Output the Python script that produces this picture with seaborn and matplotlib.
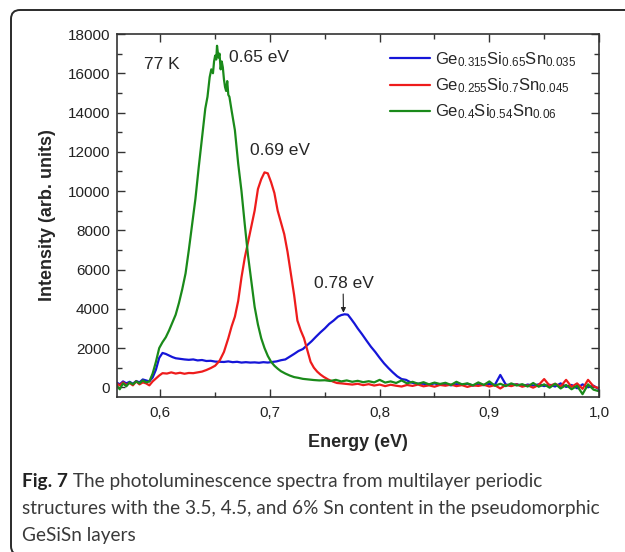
import numpy as np
import pandas as pd
import matplotlib
matplotlib.use('Agg')
import matplotlib.pyplot as plt
from matplotlib.ticker import MultipleLocator, FuncFormatter
from matplotlib.patches import FancyBboxPatch
import seaborn as sns

# chart style
sns.set_style('ticks')
plt.rcParams['font.family'] = ['Liberation Sans', 'DejaVu Sans']
plt.rcParams['mathtext.fontset'] = 'custom'
plt.rcParams['mathtext.rm'] = 'Liberation Sans'
plt.rcParams['mathtext.it'] = 'Liberation Sans'
plt.rcParams['mathtext.bf'] = 'Liberation Sans:bold'

# --- data ---
energy_blue = [0.560, 0.563, 0.566, 0.569, 0.572, 0.575, 0.578, 0.581, 0.584, 0.587,
               0.590, 0.593, 0.596, 0.599, 0.602, 0.605, 0.608, 0.611, 0.614, 0.618,
               0.622, 0.626, 0.630, 0.634, 0.638, 0.642, 0.646, 0.650, 0.654, 0.658,
               0.662, 0.666, 0.670, 0.674, 0.678, 0.682, 0.686, 0.690, 0.694, 0.698,
               0.702, 0.706, 0.710, 0.714, 0.718, 0.722, 0.726, 0.730, 0.734, 0.738,
               0.742, 0.746, 0.750, 0.754, 0.758, 0.762, 0.765, 0.768, 0.771, 0.774,
               0.777, 0.780, 0.784, 0.788, 0.792, 0.796, 0.800, 0.804, 0.808, 0.812,
               0.816, 0.820, 0.824, 0.828, 0.832, 0.836, 0.840, 0.845, 0.850, 0.855,
               0.860, 0.865, 0.870, 0.875, 0.880, 0.885, 0.890, 0.895, 0.900, 0.905,
               0.910, 0.915, 0.920, 0.925, 0.930, 0.935, 0.940, 0.945, 0.950, 0.955,
               0.960, 0.965, 0.970, 0.975, 0.980, 0.985, 0.990, 0.995, 1.000]
intensity_blue = [250, 150, 300, 200, 280, 180, 320, 250, 400, 350,
                  300, 500, 900, 1500, 1750, 1700, 1620, 1540, 1480, 1450,
                  1420, 1400, 1420, 1370, 1390, 1340, 1350, 1310, 1300, 1290,
                  1320, 1280, 1300, 1260, 1280, 1260, 1270, 1250, 1280, 1260,
                  1290, 1320, 1380, 1420, 1560, 1700, 1850, 1950, 2150, 2350,
                  2580, 2800, 3000, 3230, 3400, 3600, 3680, 3720, 3700, 3480,
                  3250, 3000, 2700, 2380, 2070, 1800, 1500, 1220, 980, 760,
                  560, 420, 380, 260, 200, 180, 180, 140, 200, 120,
                  170, 100, 160, 130, 180, 90, 150, 110, 170, 120,
                  630, 140, 100, 160, 60, 140, 90, 150, 60, 130,
                  40, 200, 20, 120, -50, 150, 0, 80, -100]

energy_red = [0.560, 0.563, 0.566, 0.569, 0.572, 0.575, 0.578, 0.581, 0.584, 0.587,
              0.590, 0.593, 0.596, 0.599, 0.602, 0.606, 0.610, 0.614, 0.618, 0.622,
              0.626, 0.630, 0.634, 0.638, 0.642, 0.646, 0.650, 0.654, 0.658, 0.662,
              0.665, 0.668, 0.671, 0.674, 0.677, 0.680, 0.683, 0.686, 0.689, 0.692,
              0.695, 0.698, 0.701, 0.704, 0.707, 0.710, 0.713, 0.716, 0.719, 0.722,
              0.725, 0.728, 0.731, 0.734, 0.737, 0.740, 0.743, 0.746, 0.749, 0.753,
              0.757, 0.761, 0.765, 0.770, 0.775, 0.780, 0.785, 0.790, 0.795, 0.800,
              0.805, 0.810, 0.815, 0.820, 0.825, 0.830, 0.835, 0.840, 0.845, 0.850,
              0.855, 0.860, 0.865, 0.870, 0.875, 0.880, 0.885, 0.890, 0.895, 0.900,
              0.905, 0.910, 0.915, 0.920, 0.925, 0.930, 0.935, 0.940, 0.945, 0.950,
              0.955, 0.960, 0.965, 0.970, 0.975, 0.980, 0.985, 0.990, 0.995, 1.000]
intensity_red = [200, 100, 250, 120, 220, 100, 300, 150, 250, 200,
                 100, 300, 450, 600, 720, 700, 760, 700, 740, 690,
                 730, 720, 760, 800, 880, 980, 1100, 1350, 1800, 2500,
                 3100, 3600, 4400, 5600, 6600, 7400, 8200, 9000, 10100, 10600,
                 10950, 10900, 10450, 9900, 9000, 8400, 7800, 6900, 5800, 4700,
                 3400, 2900, 2500, 1900, 1300, 1000, 800, 650, 530, 400,
                 300, 220, 200, 170, 140, 180, 110, 160, 90, 140,
                 60, 130, 80, 40, 120, 70, 140, 50, 100, 30,
                 120, 80, 140, 60, 110, 20, 100, 70, 130, 40,
                 110, -60, 120, 60, 150, 30, 100, -20, 120, 420,
                 80, 180, 40, 380, 20, 200, -80, 380, 50, -50]

energy_green = [0.560, 0.563, 0.566, 0.569, 0.572, 0.575, 0.578, 0.581, 0.584, 0.587,
                0.590, 0.593, 0.596, 0.599, 0.602, 0.605, 0.608, 0.611, 0.614, 0.617,
                0.620, 0.623, 0.626, 0.629, 0.632, 0.635, 0.638, 0.641, 0.643, 0.645,
                0.6465, 0.648, 0.649, 0.650, 0.651, 0.6517, 0.653, 0.654, 0.655, 0.656,
                0.657, 0.658, 0.659, 0.660, 0.661, 0.662, 0.663, 0.665, 0.668, 0.671,
                0.674, 0.677, 0.680, 0.683, 0.686, 0.689, 0.692, 0.695, 0.698, 0.701,
                0.704, 0.707, 0.710, 0.714, 0.718, 0.722, 0.726, 0.730, 0.735, 0.740,
                0.745, 0.750, 0.755, 0.760, 0.765, 0.770, 0.775, 0.780, 0.785, 0.790,
                0.795, 0.800, 0.805, 0.810, 0.815, 0.820, 0.825, 0.830, 0.835, 0.840,
                0.845, 0.850, 0.855, 0.860, 0.865, 0.870, 0.875, 0.880, 0.885, 0.890,
                0.895, 0.900, 0.905, 0.910, 0.915, 0.920, 0.925, 0.930, 0.935, 0.940,
                0.945, 0.950, 0.955, 0.960, 0.965, 0.970, 0.975, 0.980, 0.985, 0.990,
                0.995, 1.000]
intensity_green = [100, -100, 200, 50, 250, 150, 300, 200, 350, 250,
                   300, 700, 1300, 2000, 2300, 2550, 2900, 3300, 3700, 4300,
                   5000, 5800, 7000, 8300, 9600, 11200, 12700, 14200, 14800, 15800,
                   16200, 16000, 16600, 16900, 16700, 17400, 16800, 17000, 16200, 16600,
                   16300, 15700, 15300, 15100, 15600, 14900, 14800, 14100, 13100, 11400,
                   10000, 8300, 6700, 5400, 4100, 3200, 2500, 2000, 1600, 1300,
                   1100, 950, 820, 700, 600, 520, 480, 430, 400, 370,
                   350, 360, 320, 380, 300, 350, 280, 330, 260, 310,
                   250, 380, 240, 300, 220, 350, 200, 280, 180, 260,
                   150, 240, 170, 230, 120, 280, 150, 200, 100, 250,
                   120, 300, 80, 180, 60, 200, 90, 160, 40, 220,
                   30, 150, -20, 180, -60, 120, -100, 80, -350, 150,
                   -120, -200]

labels = [r'Ge$\mathregular{_{0.315}}$Si$\mathregular{_{0.65}}$Sn$\mathregular{_{0.035}}$',
          r'Ge$\mathregular{_{0.255}}$Si$\mathregular{_{0.7}}$Sn$\mathregular{_{0.045}}$',
          r'Ge$\mathregular{_{0.4}}$Si$\mathregular{_{0.54}}$Sn$\mathregular{_{0.06}}$']
colors = ['#1515d8', '#ee1c1c', '#1a8a1a']
x_ticks = [0.6, 0.7, 0.8, 0.9, 1.0]
y_ticks = [0, 2000, 4000, 6000, 8000, 10000, 12000, 14000, 16000, 18000]
caption = ['Fig. 7',
           ' The photoluminescence spectra from multilayer periodic',
           'structures with the 3.5, 4.5, and 6% Sn content in the pseudomorphic',
           'GeSiSn layers']

fig = plt.figure(figsize=(6.25, 5.52), dpi=100)
ax = fig.add_axes([0.1872, 0.2813, 0.7712, 0.6571])

for e, i, c, lab in zip([energy_blue, energy_red, energy_green],
                        [intensity_blue, intensity_red, intensity_green], colors, labels):
    df = pd.DataFrame({'E': e, 'I': i})
    sns.lineplot(data=df, x='E', y='I', color=c, lw=1.6, label=lab, ax=ax,
                 estimator=None, sort=False)

ax.set_xlim(0.5605, 1.0)
ax.set_ylim(-480, 18000)
ax.set_xticks(x_ticks)
ax.set_yticks(y_ticks)
ax.xaxis.set_minor_locator(MultipleLocator(0.05))
ax.yaxis.set_minor_locator(MultipleLocator(1000))
ax.xaxis.set_major_formatter(FuncFormatter(lambda v, p: '{:.1f}'.format(v).replace('.', ',')))
ax.tick_params(which='both', direction='in', top=True, right=True, labelsize=11,
               color='#333333', labelcolor='#222222', width=1.0)
ax.tick_params(which='major', length=6)
ax.tick_params(which='minor', length=3.5)
ax.tick_params(axis='x', pad=7)
ax.tick_params(axis='y', pad=5)
for s in ax.spines.values():
    s.set_linewidth(1.2)
    s.set_color('#333333')

ax.set_xlabel('Energy (eV)', fontsize=13, fontweight='bold', labelpad=10)
ax.set_ylabel('Intensity (arb. units)', fontsize=13, fontweight='bold', labelpad=8)

ax.legend(loc='upper left', bbox_to_anchor=(0.566, 0.955), frameon=False, fontsize=12,
          handlelength=2.4, handletextpad=0.3, labelspacing=0.45,
          borderpad=0, borderaxespad=0)

# peak labels
ax.text(0.585, 16470, '77 K', fontsize=12.5, va='center', ha='left')
ax.text(0.663, 16780, '0.65 eV', fontsize=12.5, va='center', ha='left')
ax.text(0.6815, 12090, '0.69 eV', fontsize=12.5, va='center', ha='left')
ax.annotate('0.78 eV', xy=(0.767, 3800), xytext=(0.7405, 5300), fontsize=12.5,
            va='center', ha='left',
            arrowprops=dict(arrowstyle='-|>', color='#222222', lw=0.8,
                            shrinkA=0, shrinkB=0, mutation_scale=7,
                            relpos=(0.48, 0.0)))

# frame round the figure and the caption (pixel coordinates)
frame = FancyBboxPatch((11, -3), 700, 552 - 10 + 3,
                       boxstyle='round,pad=0,rounding_size=9',
                       transform=None, fill=False, ec='#2a2a2a', lw=1.4)
fig.patches.append(frame)

# caption, sized so that the second line fills the same width as in the picture
cap_font = ['Lato', 'DejaVu Sans']
cap_x = 22 / 625
t1 = fig.text(cap_x, 1 - 487 / 552, caption[0], fontsize=12.5, fontweight='bold',
              family=cap_font, color='#222222', va='baseline')
t1b = fig.text(0, 0, caption[1], fontsize=12.5, family=cap_font, color='#3a3a3a',
               va='baseline')
t2 = fig.text(cap_x, 1 - 514 / 552, caption[2], fontsize=12.5, family=cap_font,
              color='#3a3a3a', va='baseline')
t3 = fig.text(cap_x, 1 - 541 / 552, caption[3], fontsize=12.5, family=cap_font,
              color='#3a3a3a', va='baseline')
fig.canvas.draw()
r = fig.canvas.get_renderer()
w2 = t2.get_window_extent(r).width
size = 12.5 * (604 - 22) / w2
for t in (t1, t1b, t2, t3):
    t.set_fontsize(size)
fig.canvas.draw()
bb = t1.get_window_extent(r)
t1b.set_position((bb.x1 / fig.bbox.width, 1 - 487 / 552))

plt.savefig('out.png', dpi=100)
